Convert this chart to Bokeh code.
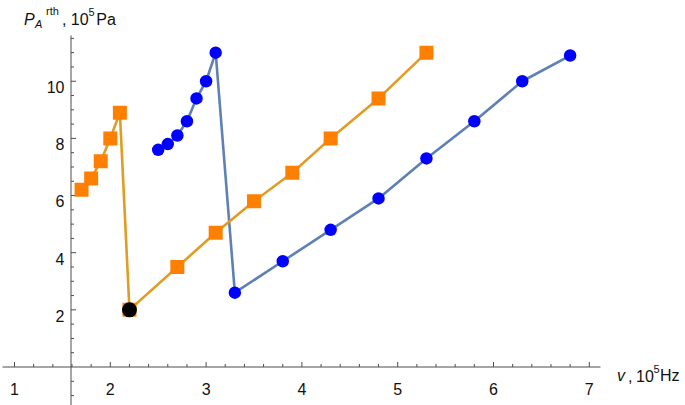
from bokeh.plotting import figure
from bokeh.models import Range1d
from bokeh.core.properties import value
from bokeh.embed import file_html
from bokeh.resources import INLINE

# ---------------- data ----------------
blue_x = [2.5, 2.6, 2.7, 2.8, 2.9, 3.0, 3.1, 3.3, 3.8, 4.3, 4.8, 5.3, 5.8, 6.3, 6.8]
blue_y = [7.6, 7.8, 8.1, 8.6, 9.4, 10.0, 11.0, 2.6, 3.7, 4.8, 5.9, 7.3, 8.6, 10.0, 10.9]
orange_x = [1.7, 1.8, 1.9, 2.0, 2.1, 2.2, 2.7, 3.1, 3.5, 3.9, 4.3, 4.8, 5.3]
orange_y = [6.2, 6.6, 7.2, 8.0, 8.9, 2.0, 3.5, 4.7, 5.8, 6.8, 8.0, 9.4, 11.0]
black_x = [2.2]
black_y = [2.0]
x_ticks = [1, 2, 3, 4, 5, 6, 7]
x_tick_labels = ["1", "2", "3", "4", "5", "6", "7"]
y_ticks = [2, 4, 6, 8, 10]
y_tick_labels = ["2", "4", "6", "8", "10"]

# ---------------- geometry (pixel scale of the page) ----------------
PX = 95.8      # pixels per x unit
PY = 28.575    # pixels per y unit
X_ORIGIN_PX = 14.0   # page pixel of x = 1
Y_ZERO_PX = 366.5    # page pixel of y = 0


def X(px):
    return 1 + (px - X_ORIGIN_PX) / PX


def Y(py):
    return (Y_ZERO_PX - py) / PY


W, H = 685, 405
p = figure(width=W, height=H, output_backend="svg", toolbar_location=None,
           x_range=Range1d(X(0), X(W)), y_range=Range1d(Y(H), Y(0)),
           x_axis_location=None, y_axis_location=None, min_border=0)
p.outline_line_color = None
p.xgrid.visible = False
p.ygrid.visible = False
p.background_fill_color = "white"

AXC = "#4d4d4d"
TXT = "#111111"
FONT = value("Liberation Sans")
AX_X = X(70.5)   # where the vertical axis crosses
FS = "16px"
FSS = "11px"

# axes lines
p.segment(x0=[X(2)], y0=[0], x1=[X(600)], y1=[0], line_color=AXC, line_width=1)
p.segment(x0=[AX_X], y0=[Y(H)], x1=[AX_X], y1=[Y(35)], line_color=AXC, line_width=1)

# x ticks
xmaj = x_ticks
xmin = [round(1 + 0.2 * i, 2) for i in range(0, 31) if abs((1 + 0.2 * i) - round(1 + 0.2 * i)) > 1e-6]
xmin = [v for v in xmin if v < 7.12]
p.segment(x0=xmaj, y0=[0] * len(xmaj), x1=xmaj, y1=[5 / PY] * len(xmaj), line_color=AXC, line_width=1)
p.segment(x0=xmin, y0=[0] * len(xmin), x1=xmin, y1=[3 / PY] * len(xmin), line_color=AXC, line_width=1)

# y ticks
ymaj = y_ticks
ymin = [v * 0.5 for v in range(-2, 24) if (v * 0.5) % 2 != 0 and v != 0]
p.segment(x0=[AX_X] * len(ymaj), y0=ymaj, x1=[AX_X + 5 / PX] * len(ymaj), y1=ymaj, line_color=AXC, line_width=1)
p.segment(x0=[AX_X] * len(ymin), y0=ymin, x1=[AX_X + 3 / PX] * len(ymin), y1=ymin, line_color=AXC, line_width=1)

# tick labels
p.text(x=x_ticks, y=[Y(388.5)] * len(x_ticks), text=x_tick_labels, text_font=FONT,
       text_font_size=FS, text_align="center", text_baseline="alphabetic", text_color=TXT)
p.text(x=[X(64)] * len(y_ticks), y=[t - 5.8 / PY for t in y_ticks], text=y_tick_labels,
       text_font=FONT, text_font_size=FS, text_align="right", text_baseline="alphabetic",
       text_color=TXT)

# series lines
p.line(blue_x, blue_y, line_color="#5E81B5", line_width=2.6)
p.line(orange_x, orange_y, line_color="#E19C24", line_width=2.6)
# markers
p.scatter(blue_x, blue_y, marker="circle", size=12.5, fill_color="#0000FF", line_color=None)
p.scatter(orange_x, orange_y, marker="square", size=14, fill_color="#FF7F00", line_color=None)
p.scatter(black_x, black_y, marker="circle", size=15, fill_color="black", line_color=None)


def piece(px, py, txt, size, italic=False):
    p.text(x=[X(px)], y=[Y(py)], text=[txt], text_font=FONT, text_font_size=size,
           text_align="left", text_baseline="alphabetic", text_color=TXT,
           text_font_style="italic" if italic else "normal")


# y axis label
piece(23.5, 18.5, "P", FS, italic=True)
piece(34.5, 23.5, "A", FSS, italic=True)
piece(45.5, 10.5, "rth", FSS)
piece(61.5, 18.5, ",", FS)
piece(70.3, 18.5, "10", FS)
piece(88.0, 11.5, "5", FSS)
piece(95.8, 18.5, "Pa", FS)

# x axis label
piece(616.5, 375, "v", FS, italic=True)
piece(627.5, 375, ",", FS)
piece(635.5, 375, "10", FS)
piece(653.0, 368.5, "5", FSS)
piece(659.5, 375, "Hz", FS)

open("out.html", "w").write(file_html(p, INLINE))
